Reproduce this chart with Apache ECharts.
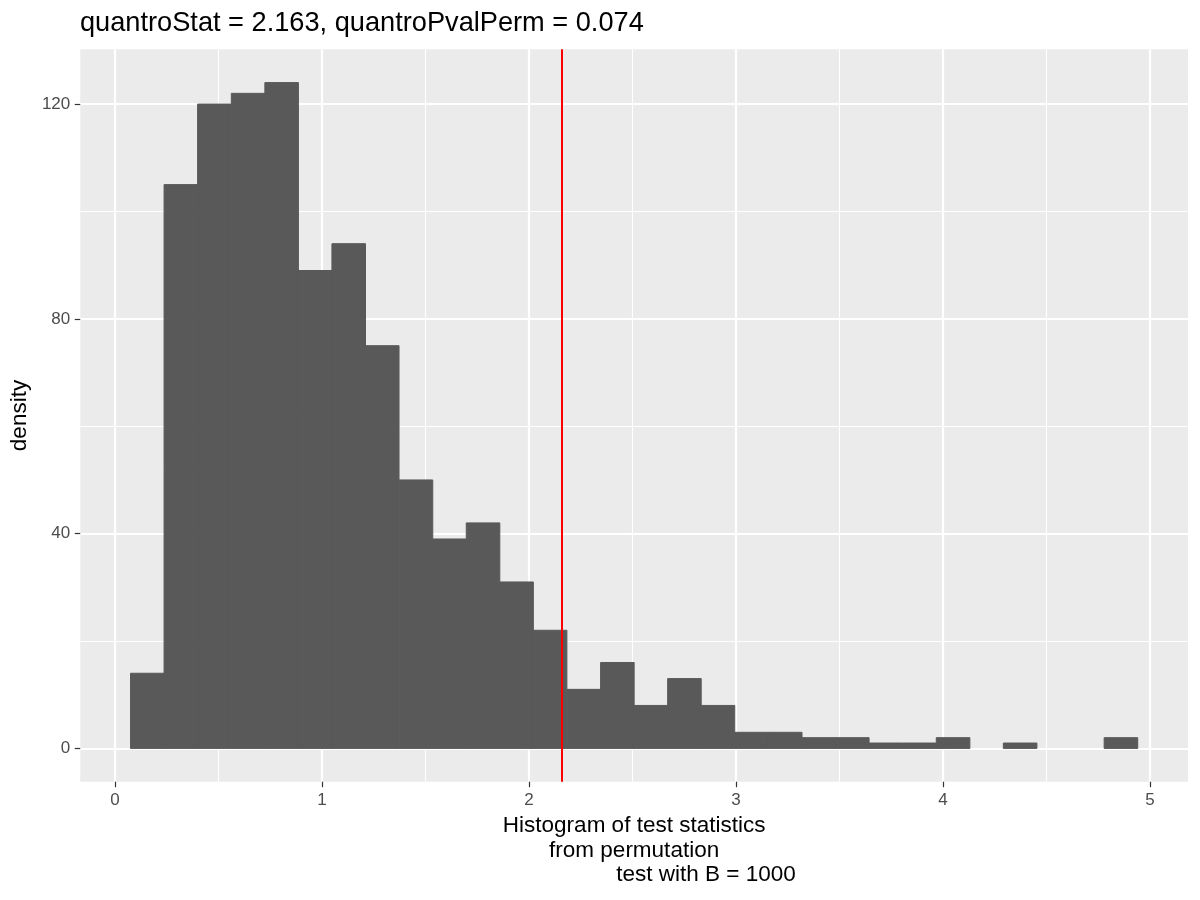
<!DOCTYPE html>
<html>
<head>
<meta charset="utf-8">
<title>quantro permutation histogram</title>
<script src="https://cdn.jsdelivr.net/npm/echarts@6/dist/echarts.min.js"></script>
<style>
  html, body { margin: 0; padding: 0; background: #fff; }
  #chart { width: 1200px; height: 900px; }
</style>
</head>
<body>
<div id="chart"></div>
<script>
  // centres of the 30 histogram bins (test statistic)
  var binCenters = [0.156, 0.318, 0.480, 0.643, 0.805, 0.967, 1.129, 1.291, 1.454, 1.616,
                    1.778, 1.940, 2.102, 2.265, 2.427, 2.589, 2.751, 2.913, 3.076, 3.238,
                    3.400, 3.562, 3.724, 3.887, 4.049, 4.211, 4.373, 4.535, 4.698, 4.860];
  // counts per bin, B = 1000 permutations
  var binCounts = [14, 105, 120, 122, 124, 89, 94, 75, 50, 39,
                   42, 31, 22, 11, 16, 8, 13, 8, 3, 3,
                   2, 2, 1, 1, 2, 0, 1, 0, 0, 2];
  var binWidth = 0.1622;

  var quantroStat = 2.163;
  var quantroPvalPerm = 0.074;

  var xTicks = [0, 1, 2, 3, 4, 5];
  var xMinorTicks = [0.5, 1.5, 2.5, 3.5, 4.5];
  var yTicks = [0, 40, 80, 120];
  var yMinorTicks = [20, 60, 100];

  var FONT = "'Liberation Sans', Arial, Helvetica, sans-serif";
  var xRange = { min: -0.168, max: 5.184 };
  var yRange = { min: -6.2, max: 130.2 };

  function renderBin(params, api) {
    var x = api.value(0);
    var n = api.value(1);
    if (!n) return null;
    var topLeft = api.coord([x - binWidth / 2, n]);
    var bottomRight = api.coord([x + binWidth / 2, 0]);
    return {
      type: "rect",
      shape: {
        x: topLeft[0],
        y: topLeft[1],
        width: bottomRight[0] - topLeft[0],
        height: bottomRight[1] - topLeft[1]
      },
      // stroke in the fill colour hides the seams between bins
      style: { fill: "#595959", stroke: "#595959", lineWidth: 1 }
    };
  }

  function majorAxis(range, ticks, extra) {
    var axis = {
      type: "value",
      min: range.min,
      max: range.max,
      axisLine: { show: false, onZero: false },
      axisTick: {
        show: true,
        length: 5.5,
        customValues: ticks,
        lineStyle: { color: "#333333", width: 1.2 }
      },
      axisLabel: {
        customValues: ticks,
        color: "#4D4D4D",
        fontFamily: FONT,
        fontSize: 17,
        margin: 10
      },
      splitLine: { show: true, lineStyle: { color: "#FFFFFF", width: 2.2 } }
    };
    for (var k in extra) axis[k] = extra[k];
    return axis;
  }

  function minorAxis(range, ticks) {
    return {
      type: "value",
      min: range.min,
      max: range.max,
      axisLine: { show: false, onZero: false },
      axisTick: { show: false, customValues: ticks },
      axisLabel: { show: false, customValues: ticks },
      splitLine: { show: true, lineStyle: { color: "#FFFFFF", width: 1.1 } }
    };
  }

  var data = binCenters.map(function (c, i) { return [c, binCounts[i]]; });

  var chart = echarts.init(document.getElementById("chart"), null, { renderer: "canvas" });
  chart.setOption({
    animation: false,
    backgroundColor: "#FFFFFF",
    title: {
      text: "quantroStat = " + quantroStat + ", quantroPvalPerm = " + quantroPvalPerm,
      left: 80,
      top: 10,
      padding: 0,
      textStyle: { fontFamily: FONT, fontSize: 27.2, fontWeight: "normal", color: "#000000" }
    },
    grid: {
      left: 80, right: 12, top: 49.3, bottom: 118.3,
      show: true, backgroundColor: "#EBEBEB", borderWidth: 0,
      containLabel: false
    },
    xAxis: [
      majorAxis(xRange, xTicks, {
        name: "Histogram of test statistics\nfrom permutation\n                       test with B = 1000",
        nameLocation: "middle",
        nameGap: 31,
        nameTextStyle: { fontFamily: FONT, fontSize: 22.5, color: "#000000", lineHeight: 24.5, align: "center" }
      }),
      minorAxis(xRange, xMinorTicks)
    ],
    yAxis: [
      majorAxis(yRange, yTicks, {
        name: "density",
        nameLocation: "middle",
        nameGap: 48,
        nameTextStyle: { fontFamily: FONT, fontSize: 22.5, color: "#000000" }
      }),
      minorAxis(yRange, yMinorTicks)
    ],
    series: [
      {
        type: "custom",
        xAxisIndex: 0,
        yAxisIndex: 0,
        renderItem: renderBin,
        encode: { x: 0, y: 1 },
        data: data,
        markLine: {
          silent: true,
          symbol: "none",
          label: { show: false },
          lineStyle: { color: "#FF0000", width: 2, type: "solid" },
          data: [{ xAxis: quantroStat }]
        }
      }
    ]
  });
</script>
</body>
</html>
